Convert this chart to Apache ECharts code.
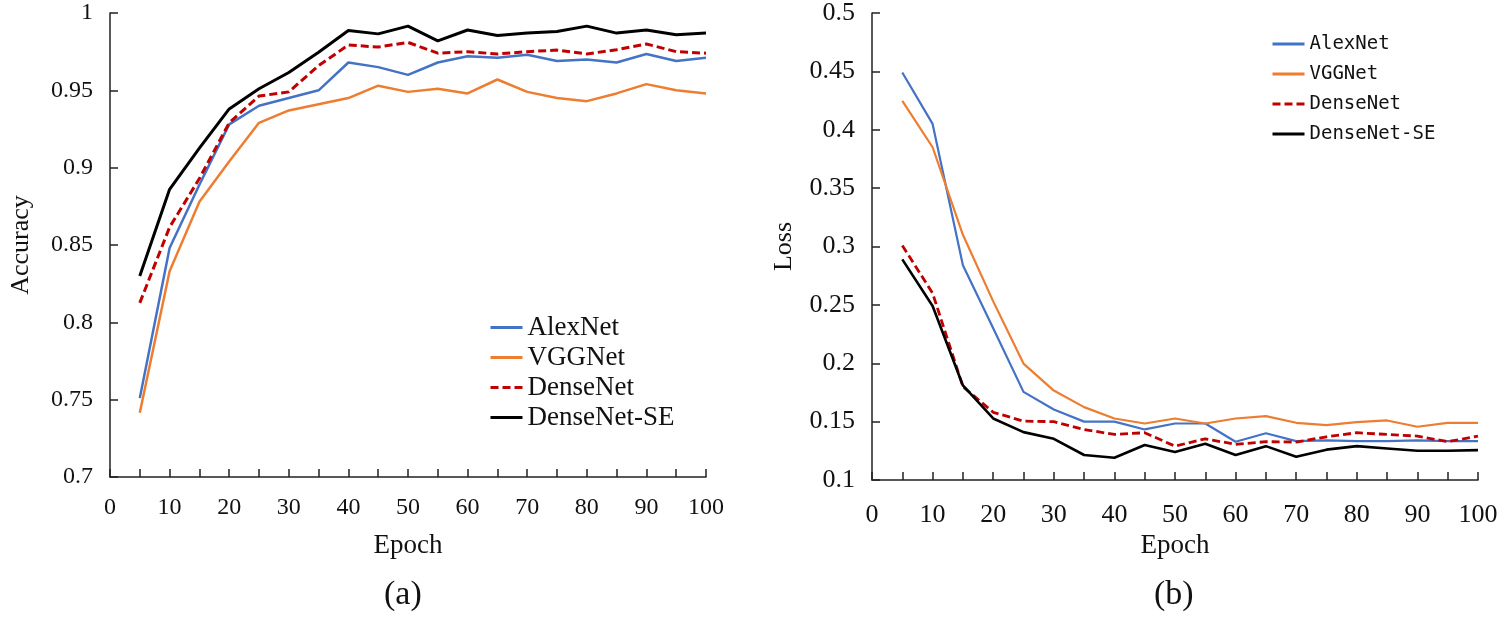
<!DOCTYPE html>
<html>
<head>
<meta charset="utf-8">
<script src="https://cdn.jsdelivr.net/npm/echarts@6/dist/echarts.min.js"></script>
<style>
html,body{margin:0;padding:0;background:#fff;}
#wrap{position:relative;width:1505px;height:618px;}
#a{position:absolute;left:0;top:0;width:760px;height:618px;}
#b{position:absolute;left:760px;top:0;width:745px;height:618px;}
</style>
</head>
<body>
<div id="wrap"><div id="a"></div><div id="b"></div></div>
<script>
const epochs = [5,10,15,20,25,30,35,40,45,50,55,60,65,70,75,80,85,90,95,100];
const seriesNames = ['AlexNet','VGGNet','DenseNet','DenseNet-SE'];

// (a) Accuracy
const accAlexNet   = [0.751,0.848,0.889,0.928,0.940,0.945,0.950,0.968,0.965,0.960,0.968,0.972,0.971,0.973,0.969,0.970,0.968,0.9735,0.969,0.971];
const accVGGNet    = [0.7415,0.833,0.878,0.904,0.929,0.937,0.941,0.945,0.953,0.949,0.951,0.948,0.957,0.949,0.945,0.943,0.948,0.954,0.950,0.948];
const accDenseNet  = [0.8126,0.8615,0.893,0.929,0.9463,0.949,0.966,0.9793,0.978,0.981,0.974,0.975,0.9735,0.975,0.976,0.9735,0.9763,0.980,0.975,0.974];
const accDenseNetSE= [0.830,0.886,0.9126,0.938,0.951,0.9615,0.9746,0.9887,0.9865,0.9915,0.982,0.989,0.9854,0.987,0.988,0.9915,0.987,0.989,0.986,0.987];

// (b) Loss
const lossAlexNet   = [0.449,0.405,0.284,0.230,0.1755,0.1604,0.150,0.150,0.1433,0.1484,0.1484,0.1328,0.140,0.1333,0.134,0.1333,0.1333,0.134,0.1333,0.1333];
const lossVGGNet    = [0.4247,0.385,0.310,0.253,0.1997,0.1766,0.1624,0.1527,0.1484,0.1527,0.1484,0.1527,0.1547,0.149,0.147,0.1496,0.151,0.1456,0.149,0.149];
const lossDenseNet  = [0.3009,0.260,0.180,0.158,0.1504,0.150,0.1433,0.139,0.1405,0.129,0.1353,0.1305,0.1328,0.1325,0.137,0.1405,0.139,0.1376,0.1328,0.1376];
const lossDenseNetSE= [0.289,0.249,0.181,0.1527,0.141,0.1353,0.1214,0.119,0.130,0.124,0.131,0.1214,0.129,0.120,0.126,0.129,0.127,0.125,0.125,0.1256];

const accTicks = {min:0.7, max:1, interval:0.05};
const lossTicks = {min:0.1, max:0.5, interval:0.05};
const xTicks = {min:0, max:100, interval:5, labelEvery:10};
const panelLabels = ['(a)','(b)'];

const colors = ['#4472C4','#ED7D31','#C00000','#000000'];
const serif = 'Liberation Serif';

function pairs(vals){ return epochs.map((e,i)=>[e, vals[i]]); }

function makeSeries(arrs, widths){
  return arrs.map((vals,i)=>({
    name: seriesNames[i],
    type:'line',
    data: pairs(vals),
    symbol:'none',
    showSymbol:false,
    animation:false,
    z: i===3 ? 5 : (i===2 ? 4 : 3),
    itemStyle:{color:colors[i]},
    lineStyle:{color:colors[i], width:widths[i], type: i===2 ? [8,4] : 'solid'}
  }));
}

function axisCommon(){
  return {
    axisLine:{show:true, lineStyle:{color:'#222', width:1.5}},
    axisTick:{show:true, inside:true, length:8, lineStyle:{color:'#222', width:1.5}},
    splitLine:{show:false}
  };
}

function fmtY(v){ return String(+(+v).toFixed(2)); }
function fmtX(v){ return (v % xTicks.labelEvery === 0) ? String(v) : ''; }

const legendItemStyle = {color:'transparent', borderColor:'transparent', borderWidth:0};

// Chart A
const ca = echarts.init(document.getElementById('a'), null, {renderer:'canvas'});
ca.setOption({
  animation:false,
  backgroundColor:'#fff',
  grid:{left:102, top:13, width:604, height:464},
  legend:{
    orient:'vertical', left:484, top:308,
    itemWidth:32, itemHeight:14, itemGap:1,
    itemStyle: legendItemStyle,
    lineStyle:{width:3},
    data: seriesNames,
    textStyle:{fontFamily:serif, fontSize:27, color:'#111', lineHeight:29}
  },
  xAxis:Object.assign(axisCommon(),{
    type:'value', min:xTicks.min, max:xTicks.max, interval:xTicks.interval,
    name:'Epoch', nameLocation:'middle', nameGap:55,
    nameTextStyle:{fontFamily:serif, fontSize:27, color:'#111'},
    axisLabel:{formatter:fmtX, margin:19, fontFamily:serif, fontSize:24, color:'#111'}
  }),
  yAxis:Object.assign(axisCommon(),{
    type:'value', min:accTicks.min, max:accTicks.max, interval:accTicks.interval,
    name:'Accuracy', nameLocation:'middle', nameGap:76, nameRotate:90,
    nameTextStyle:{fontFamily:serif, fontSize:26, color:'#111'},
    axisLabel:{formatter:fmtY, margin:17, fontFamily:serif, fontSize:24, color:'#111'}
  }),
  graphic:[{type:'text', left:384, top:578, style:{text:panelLabels[0], font:'34px "Liberation Serif"', fill:'#111'}}],
  series: makeSeries([accAlexNet,accVGGNet,accDenseNet,accDenseNetSE],[2.5,2.5,3,3])
});

// Chart B
const cb = echarts.init(document.getElementById('b'), null, {renderer:'canvas'});
cb.setOption({
  animation:false,
  backgroundColor:'#fff',
  grid:{left:112, top:13, width:606, height:467},
  legend:{
    orient:'vertical', left:506, top:25,
    itemWidth:32, itemHeight:14, itemGap:2,
    itemStyle: legendItemStyle,
    lineStyle:{width:3},
    data: seriesNames,
    textStyle:{fontFamily:'DejaVu Sans Mono', fontSize:19, color:'#111', lineHeight:28}
  },
  xAxis:Object.assign(axisCommon(),{
    type:'value', min:xTicks.min, max:xTicks.max, interval:xTicks.interval,
    name:'Epoch', nameLocation:'middle', nameGap:44,
    nameTextStyle:{fontFamily:serif, fontSize:27, color:'#111'},
    axisLabel:{formatter:fmtX, margin:22, fontFamily:serif, fontSize:26, color:'#111'}
  }),
  yAxis:Object.assign(axisCommon(),{
    type:'value', min:lossTicks.min, max:lossTicks.max, interval:lossTicks.interval,
    name:'Loss', nameLocation:'middle', nameGap:75, nameRotate:90,
    nameTextStyle:{fontFamily:serif, fontSize:26, color:'#111'},
    axisLabel:{formatter:fmtY, margin:17, fontFamily:serif, fontSize:26, color:'#111'}
  }),
  graphic:[{type:'text', left:394, top:578, style:{text:panelLabels[1], font:'34px "Liberation Serif"', fill:'#111'}}],
  series: makeSeries([lossAlexNet,lossVGGNet,lossDenseNet,lossDenseNetSE],[2.2,2.2,2.8,2.6])
});
</script>
</body>
</html>
